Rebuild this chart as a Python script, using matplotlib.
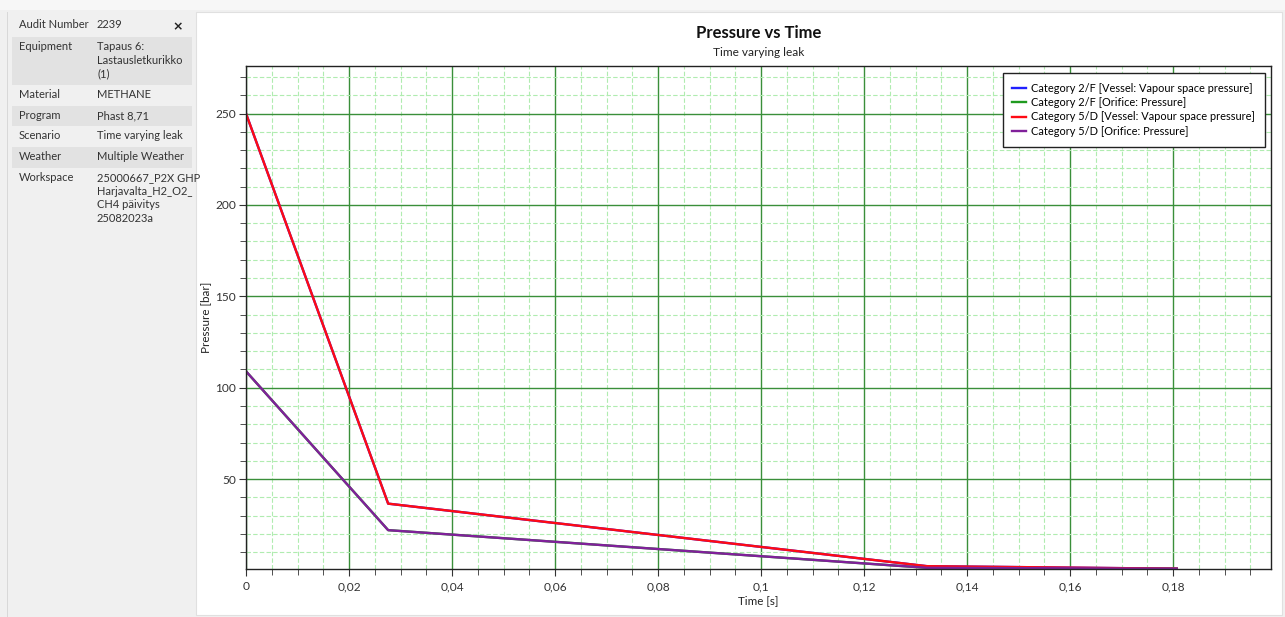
import matplotlib.pyplot as plt
from matplotlib.patches import Rectangle
from matplotlib.ticker import MultipleLocator, FuncFormatter

plt.rcParams['font.family'] = ['Lato', 'DejaVu Sans']

# info panel
info_keys = ["Audit Number", "Equipment", "Material", "Program", "Scenario", "Weather", "Workspace"]
info_vals = ["2239", "Tapaus 6:\nLastausletkurikko\n(1)", "METHANE", "Phast 8,71",
             "Time varying leak", "Multiple Weather",
             "25000667_P2X GHP\nHarjavalta_H2_O2_\nCH4 päivitys\n25082023a"]

# series (time in s, pressure in bar)
time_2f = [0, 0.0276, 0.1322, 0.1807]
vessel_2f = [250, 36.6, 2.4, 1.01325]
orifice_2f = [109, 22.1, 1.5, 1.01325]
time_5d = [0, 0.0276, 0.1322, 0.1807]
vessel_5d = [250, 36.6, 2.4, 1.01325]
orifice_5d = [109, 22.1, 1.5, 1.01325]

labels = ["Category 2/F [Vessel: Vapour space pressure]",
          "Category 2/F [Orifice: Pressure]",
          "Category 5/D [Vessel: Vapour space pressure]",
          "Category 5/D [Orifice: Pressure]"]
colors = ["#2020ff", "#1f9a1f", "#ff0a14", "#80209a"]

W, H = 1285, 617
fig = plt.figure(figsize=(W / 100, H / 100), dpi=100, facecolor="#f0f0f0")

def px(x, y):
    return x / W, 1 - y / H

def box(x0, y0, x1, y1, **kw):
    # rectangle in pixel coords (top-left origin), drawn behind the axes
    r = Rectangle(px(x0, y1), (x1 - x0) / W, (y1 - y0) / H,
                  transform=fig.transFigure, zorder=-10, **kw)
    fig.patches.append(r)

box(0, 0, W, 10, facecolor="#f7f7f7", edgecolor="none")
box(196, 12, 1282, 615, facecolor="white", edgecolor="#e0e0e0", lw=0.8)
box(7, 12, 8.2, 617, facecolor="#d8d8d8", edgecolor="none")

row_tops = [15, 37, 85, 106, 126, 147, 168]
row_bots = [37, 85, 106, 126, 147, 168, 232]
for i, (k, v) in enumerate(zip(info_keys, info_vals)):
    if i % 2 == 1:
        box(12, row_tops[i], 192, row_bots[i], facecolor="#e2e2e2", edgecolor="none")
    ty = row_tops[i] + 4
    fig.text(*px(19, ty), k, fontsize=8.0, color="#333333", va="top", ha="left")
    fig.text(*px(97, ty), v, fontsize=8.0, color="#333333", va="top", ha="left",
             linespacing=1.3)
fig.text(*px(178, 27), "×", fontsize=9, color="#222222", va="center", ha="center",
         fontweight="bold", family="DejaVu Sans")

ax = fig.add_axes([246 / W, 1 - 568.7 / H, (1271 - 246) / W, (568.7 - 66) / H])
ax.set_facecolor("white")
ax.plot(time_2f, vessel_2f, color=colors[0], lw=1.7, label=labels[0])
ax.plot(time_2f, orifice_2f, color=colors[1], lw=1.7, label=labels[1])
ax.plot(time_5d, vessel_5d, color=colors[2], lw=1.7, label=labels[2])
ax.plot(time_5d, orifice_5d, color=colors[3], lw=1.7, label=labels[3])

ax.set_xlim(0, 0.199)
ax.set_ylim(1.01325, 276)
ax.xaxis.set_major_locator(MultipleLocator(0.02))
ax.xaxis.set_minor_locator(MultipleLocator(0.005))
ax.yaxis.set_major_locator(MultipleLocator(50))
ax.yaxis.set_minor_locator(MultipleLocator(10))

def fmt(v, pos):
    if abs(v) < 1e-9:
        return "0"
    return ("%g" % round(v, 4)).replace(".", ",")

ax.xaxis.set_major_formatter(FuncFormatter(fmt))
ax.yaxis.set_major_formatter(FuncFormatter(fmt))

ax.grid(which="major", color="#3a8f3a", lw=1.0, ls="-")
ax.grid(which="minor", color="#b0ecb0", lw=0.8, ls=(0, (4, 2)))
ax.set_axisbelow(True)
ax.tick_params(which="both", direction="out", color="#333333", labelsize=8.6,
               labelcolor="#333333")
ax.tick_params(which="major", length=5, pad=4)
ax.tick_params(which="minor", length=4)
ax.tick_params(axis="y", which="major", pad=2)
for s in ax.spines.values():
    s.set_color("#222222")
    s.set_linewidth(1.0)

ax.set_xlabel("Time [s]", fontsize=8.4, color="#222222", labelpad=2)
ax.set_ylabel("Pressure [bar]", fontsize=8.4, color="#222222", labelpad=3)

fig.text(*px(759, 33), "Pressure vs Time", fontsize=12, fontweight="bold",
         ha="center", va="center", color="#111111")
fig.text(*px(759, 52), "Time varying leak", fontsize=8.6, ha="center", va="center",
         color="#222222")

leg = ax.legend(loc="upper right", bbox_to_anchor=(0.994, 0.986), fontsize=7.9,
                fancybox=False, framealpha=1, edgecolor="#222222",
                handlelength=1.2, handletextpad=0.5, borderpad=0.9,
                labelspacing=0.3, borderaxespad=0)
leg.get_frame().set_linewidth(1.0)

fig.savefig("out.png", dpi=100, facecolor=fig.get_facecolor())
